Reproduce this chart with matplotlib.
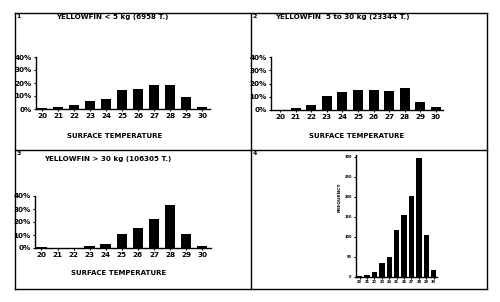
import matplotlib
matplotlib.use("Agg")
import matplotlib.pyplot as plt
from matplotlib.lines import Line2D

temps = [20, 21, 22, 23, 24, 25, 26, 27, 28, 29, 30]
temp_labels = [str(t) for t in temps]
pct_small = [0.8, 1.3, 3.0, 6.0, 8.0, 15.0, 15.4, 18.5, 18.3, 9.5, 1.8]
pct_mid = [0.3, 1.5, 4.0, 10.5, 13.6, 14.8, 14.8, 14.0, 16.3, 6.0, 2.0]
pct_large = [0.5, 0.3, 0.3, 1.5, 3.0, 10.6, 15.2, 22.0, 33.0, 11.0, 1.5]
freq_all = [2, 5, 13, 35, 50, 117, 155, 202, 298, 104, 18]
pct_ticks = [0, 10, 20, 30, 40]
pct_tick_labels = ["0%", "10%", "20%", "30%", "40%"]
freq_ticks = [0, 50, 100, 150, 200, 250, 300]
titles = ["YELLOWFIN < 5 kg (6958 T.)", "YELLOWFIN  5 to 30 kg (23344 T.)",
          "YELLOWFIN > 30 kg (106305 T.)"]
xlabel = "SURFACE TEMPERATURE"
ylabel4 = "FREQUENCY"

W, H = 500, 302
FONT = ["Liberation Sans Narrow", "DejaVu Sans"]
fig = plt.figure(figsize=(W / 100, H / 100), dpi=100)
fig.patch.set_facecolor("white")


def fx(x):
    return x / W


def fy(y):
    return 1 - y / H


def add_ax(x0, x1, y_top, y_bot):
    return fig.add_axes([fx(x0), fy(y_bot), fx(x1) - fx(x0), fy(y_top) - fy(y_bot)])


def style(ax, fs):
    for s in ("top", "right"):
        ax.spines[s].set_visible(False)
    for s in ("left", "bottom"):
        ax.spines[s].set_linewidth(1.0)
        ax.spines[s].set_color("black")
    ax.tick_params(axis="both", length=1.5, width=0.8, pad=1.5, labelsize=fs,
                   direction="out")
    for lab in ax.get_xticklabels() + ax.get_yticklabels():
        lab.set_fontfamily(FONT)
        lab.set_fontweight("bold")


pct_panels = [
    (pct_small, (36, 210, 57, 109), 0),
    (pct_mid, (271, 443, 57, 110), 1),
    (pct_large, (35, 211, 196, 248), 2),
]
title_pos = [(112, 17.5), (342, 17.5), (108, 159.5)]
xlabel_pos = [(115, 136), (357, 136), (119, 273)]
xlims = [(19.62, 30.5), (19.42, 30.45), (19.6, 30.55)]

for vals, box, i in pct_panels:
    ax = add_ax(*box)
    ax.bar(temps, vals, width=0.65, color="black")
    ax.set_xlim(*xlims[i])
    ax.set_ylim(0, 40)
    ax.set_yticks(pct_ticks)
    ax.set_yticklabels(pct_tick_labels)
    ax.set_xticks(temps)
    ax.set_xticklabels(temp_labels)
    style(ax, 5.2)
    fig.text(fx(title_pos[i][0]), fy(title_pos[i][1]), titles[i], ha="center",
             va="center", fontsize=5.1, fontweight="bold", family=FONT)
    fig.text(fx(xlabel_pos[i][0]), fy(xlabel_pos[i][1]), xlabel, ha="center",
             va="center", fontsize=5.0, fontweight="bold", family=FONT)

ax4 = add_ax(356, 437, 155, 277)
ax4.bar(temps, freq_all, width=0.72, color="black")
ax4.set_xlim(19.5, 30.45)
ax4.set_ylim(0, 305)
ax4.set_yticks(freq_ticks)
ax4.set_yticklabels([str(t) for t in freq_ticks])
ax4.set_xticks(temps)
ax4.set_xticklabels(temp_labels)
style(ax4, 2.6)
ax4.tick_params(axis="x", pad=0.8)
fig.text(fx(339), fy(197), ylabel4, rotation=90, ha="center", va="center",
         fontsize=3.2, fontweight="bold", family=FONT)

# panel frames
L, R, T, B, MX, MY = 15, 487, 13, 289, 251, 150
frame = [((L, R), (T, T)), ((L, R), (B, B)), ((L, L), (T, B)), ((R, R), (T, B)),
         ((MX, MX), (T, B)), ((L, R), (MY, MY))]
for xs, ys in frame:
    fig.add_artist(Line2D([fx(xs[0]), fx(xs[1])], [fy(ys[0]), fy(ys[1])],
                          color="black", lw=1.0))

for n, (px, py) in enumerate([(L, T), (MX, T), (L, MY), (MX, MY)], start=1):
    fig.text(fx(px + 1.5), fy(py + 1), str(n), ha="left", va="top",
             fontsize=4.5, fontweight="bold", family=FONT)

fig.savefig("out.png", dpi=100)
